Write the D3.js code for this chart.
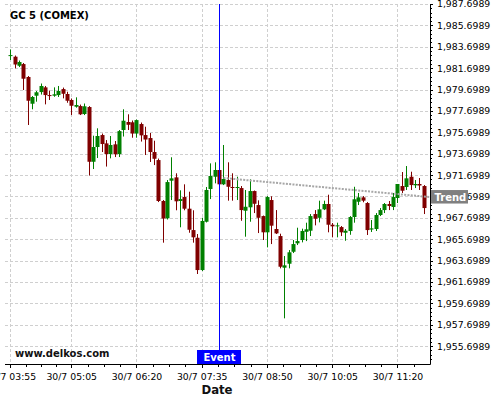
<!DOCTYPE html>
<html>
<head>
<meta charset="utf-8">
<script src="https://cdnjs.cloudflare.com/ajax/libs/d3/7.8.5/d3.min.js"></script>
<style>
	body { margin: 0; background: #fff; }
	text { font-family: "DejaVu Sans", sans-serif; }
	.grid line { stroke: #cfcfcf; stroke-dasharray: 3,2; shape-rendering: crispEdges; }
	.axis text { font-size: 9.3px; fill: #000; }
	.axis line { stroke: #000; shape-rendering: crispEdges; }
</style>
</head>
<body>
<script>
(function(){

//chart data: 5-minute bars of GC 5 starting 30/7 03:55
var barStart = "03:55";
var barMinutes = 5;
var opens = [1982.86,1982.77,1981.92,1982.08,1980.87,1978.37,1979.12,1979.46,1979.90,1979.18,
	1979.12,1979.18,1979.74,1979.28,1978.72,1978.09,1978.15,1977.41,1978.06,1972.94,
	1974.32,1975.44,1974.66,1973.66,1974.57,1973.66,1975.91,1976.66,1976.63,1975.58,
	1976.47,1975.44,1975.16,1973.85,1973.10,1969.27,1967.65,1971.17,1971.48,1969.27,
	1969.64,1968.55,1966.55,1965.83,1962.81,1967.33,1970.39,1971.54,1972.17,1970.83,
	1971.23,1970.58,1970.53,1970.48,1968.36,1968.68,1970.20,1968.89,1967.86,1966.34,
	1969.36,1966.65,1965.99,1963.03,1963.40,1964.52,1965.31,1965.62,1966.39,1966.49,
	1968.05,1967.70,1968.49,1968.99,1967.05,1966.90,1966.83,1966.30,1966.46,1967.77,
	1969.20,1969.61,1969.08,1966.60,1966.65,1967.96,1968.42,1968.99,1968.71,1969.55,
	1970.67,1970.58,1971.54,1970.74,1970.86,1970.67];
var highs = [1983.44,1982.88,1982.41,1982.18,1980.96,1979.09,1979.56,1980.26,1980.03,1979.60,
	1979.90,1980.03,1979.88,1979.49,1978.86,1978.97,1978.29,1978.39,1978.15,1975.38,
	1976.07,1975.58,1974.97,1975.35,1974.88,1975.91,1977.85,1977.38,1976.80,1976.89,
	1976.61,1976.22,1975.63,1974.91,1973.24,1969.36,1971.23,1973.36,1971.86,1970.27,
	1970.83,1970.14,1968.40,1966.18,1967.70,1970.58,1972.79,1972.89,1973.06,1974.51,
	1972.89,1971.86,1971.54,1970.67,1970.30,1971.30,1970.25,1969.33,1967.91,1969.73,
	1969.71,1968.42,1966.21,1964.12,1964.68,1965.62,1966.77,1966.68,1967.24,1968.05,
	1968.42,1969.30,1969.30,1969.86,1967.21,1967.24,1966.93,1966.65,1967.86,1970.60,
	1970.02,1969.73,1969.17,1967.49,1968.14,1968.61,1969.08,1969.27,1970.02,1970.86,
	1971.98,1972.54,1972.01,1971.23,1971.42,1970.76];
var lows = [1982.46,1981.68,1981.80,1979.65,1976.38,1977.85,1978.56,1979.23,1978.31,1978.72,
	1979.02,1979.00,1978.87,1978.46,1977.31,1978.00,1977.31,1977.31,1971.65,1972.26,
	1973.29,1973.85,1972.49,1973.26,1973.38,1973.38,1975.30,1975.91,1975.19,1975.19,
	1974.83,1973.57,1972.92,1972.63,1969.17,1965.37,1967.54,1969.36,1968.40,1966.81,
	1968.40,1966.30,1965.37,1962.44,1962.72,1967.26,1969.45,1970.92,1970.76,1970.76,
	1969.30,1969.30,1969.36,1967.42,1965.93,1967.33,1968.14,1966.27,1965.62,1964.93,
	1965.24,1966.18,1962.97,1958.29,1962.97,1964.40,1965.15,1965.40,1965.52,1965.99,
	1966.99,1967.27,1968.42,1966.34,1965.87,1965.87,1965.99,1965.55,1966.11,1967.24,
	1968.89,1969.15,1966.09,1966.37,1966.46,1967.86,1968.14,1968.42,1968.42,1969.08,
	1970.02,1970.30,1970.30,1970.48,1970.30,1968.05];
var closes = [1982.92,1982.04,1982.27,1980.71,1978.65,1979.00,1979.44,1980.03,1979.18,1979.13,
	1979.25,1979.56,1979.30,1978.65,1978.18,1978.25,1977.38,1978.13,1972.94,1974.32,
	1975.35,1974.60,1973.66,1974.51,1973.64,1975.81,1976.78,1976.40,1975.58,1976.84,
	1975.41,1975.02,1973.85,1973.22,1969.27,1967.63,1971.04,1971.39,1969.24,1969.45,
	1968.55,1966.58,1965.87,1962.81,1967.40,1970.30,1971.61,1972.17,1970.83,1971.33,
	1970.60,1970.51,1970.58,1968.42,1968.73,1970.20,1969.01,1967.70,1966.34,1969.64,
	1966.96,1966.24,1963.12,1963.25,1964.47,1965.24,1965.52,1966.46,1966.62,1967.86,
	1967.61,1968.49,1968.99,1967.05,1966.90,1966.99,1966.34,1966.49,1967.77,1969.43,
	1969.61,1969.30,1966.55,1966.71,1967.96,1968.42,1968.99,1968.80,1969.64,1970.86,
	1970.23,1971.39,1970.76,1970.86,1970.72,1968.61];

//axis ticks
var xTickLabels = ["03:55", "05:05", "06:20", "07:35", "08:50", "10:05", "11:20"];
var yTickValues = [1955.6989, 1957.6989, 1959.6989, 1961.6989, 1963.6989, 1965.6989,
	1967.6989, 1969.6989, 1971.6989, 1973.6989, 1975.6989, 1977.6989, 1979.6989,
	1981.6989, 1983.6989, 1985.6989, 1987.6989];

//event marker and trend line
var eventTime = "07:55";
var trendTimes = ["08:00", "11:57"];
var trendPrices = [1971.42, 1969.64];

//turn "HH:MM" into a date on 30/7
function toDate(hhmm){
	var p = hhmm.split(":");
	return new Date(2023, 6, 30, +p[0], +p[1]);
}

//frame
var width = 500,
	height = 400,
	plotLeft = 5,
	plotRight = 430,
	plotTop = 4,
	plotBottom = 364;

var svg = d3.select("body")
	.append("svg")
	.attr("width", width)
	.attr("height", height);

//build bar records
var first = toDate(barStart);
var bars = opens.map(function(o, i){
	return {
		date: d3.timeMinute.offset(first, i * barMinutes),
		open: o, high: highs[i], low: lows[i], close: closes[i]
	};
});

//scales
var x = d3.scaleTime()
	.domain([bars[0].date, bars[bars.length - 1].date])
	.range([10.3, 423.55]);

var y = d3.scaleLinear()
	.domain([1954.02, 1987.70])
	.range([plotBottom, plotTop]);

var xTickDates = xTickLabels.map(toDate);

//gridlines
var grid = svg.append("g").attr("class", "grid");
grid.selectAll(".vgrid")
	.data(xTickDates)
	.enter()
	.append("line")
	.attr("x1", function(d){ return Math.round(x(d)) + 0.5; })
	.attr("x2", function(d){ return Math.round(x(d)) + 0.5; })
	.attr("y1", plotTop)
	.attr("y2", plotBottom);
grid.selectAll(".hgrid")
	.data(yTickValues)
	.enter()
	.append("line")
	.attr("x1", plotLeft)
	.attr("x2", plotRight)
	.attr("y1", function(d){ return Math.round(y(d)) + 0.5; })
	.attr("y2", function(d){ return Math.round(y(d)) + 0.5; });

//candles
var candles = svg.append("g").attr("class", "candles");
var candle = candles.selectAll(".candle")
	.data(bars)
	.enter()
	.append("g")
	.attr("class", "candle");

function candleColor(d){
	return d.close >= d.open ? "#008000" : "#800000";
}

candle.append("line")
	.attr("x1", function(d){ return Math.round(x(d.date)) + 0.5; })
	.attr("x2", function(d){ return Math.round(x(d.date)) + 0.5; })
	.attr("y1", function(d){ return y(d.high); })
	.attr("y2", function(d){ return y(d.low); })
	.style("stroke", candleColor)
	.style("stroke-width", 1);

candle.append("rect")
	.attr("x", function(d){ return Math.round(x(d.date)) - 1.5; })
	.attr("width", 4)
	.attr("y", function(d){ return y(Math.max(d.open, d.close)); })
	.attr("height", function(d){ return Math.max(1, Math.abs(y(d.open) - y(d.close))); })
	.style("fill", candleColor);

//trend line
svg.append("line")
	.attr("x1", x(toDate(trendTimes[0])))
	.attr("y1", y(trendPrices[0]))
	.attr("x2", x(toDate(trendTimes[1])))
	.attr("y2", y(trendPrices[1]))
	.style("stroke", "#a6a6a6")
	.style("stroke-width", 2)
	.style("stroke-dasharray", "2,1.3");

//event line
var ex = Math.round(x(toDate(eventTime))) + 0.5;
svg.append("line")
	.attr("x1", ex).attr("x2", ex)
	.attr("y1", plotTop).attr("y2", 350)
	.style("stroke", "#0000ff")
	.style("stroke-width", 1);

//x axis
var xAxis = d3.axisBottom(x)
	.tickValues(xTickDates)
	.tickFormat(d3.timeFormat("%-d/%-m %H:%M"))
	.tickSize(4)
	.tickPadding(5)
	.tickSizeOuter(0);

var gx = svg.append("g")
	.attr("class", "axis")
	.attr("transform", "translate(0," + plotBottom + ")")
	.call(xAxis);
gx.select(".domain").remove();

//x minor ticks, three between majors
var xMinor = [];
for (var i=0; i<xTickDates.length; i++){
	var a = xTickDates[i],
		b = xTickDates[i + 1] || d3.timeMinute.offset(a, 75);
	for (var k=1; k<4; k++){
		var t = new Date(+a + (b - a) * k / 4);
		if (x(t) < plotRight) xMinor.push(t);
	}
}
svg.append("g").attr("class", "axis")
	.selectAll("line")
	.data(xMinor)
	.enter()
	.append("line")
	.attr("x1", function(d){ return Math.round(x(d)) + 0.5; })
	.attr("x2", function(d){ return Math.round(x(d)) + 0.5; })
	.attr("y1", plotBottom)
	.attr("y2", plotBottom + 3);

//y axis
var yAxis = d3.axisRight(y)
	.tickValues(yTickValues)
	.tickFormat(d3.format(",.4f"))
	.tickSize(3)
	.tickPadding(4)
	.tickSizeOuter(0);

var gy = svg.append("g")
	.attr("class", "axis")
	.attr("transform", "translate(" + plotRight + ",0)")
	.call(yAxis);
gy.select(".domain").remove();

//y minor ticks every 0.4
var yMinor = [];
for (var v = 1954.0989 + 0.4; v < 1987.70; v += 0.4){
	yMinor.push(v);
}
svg.append("g").attr("class", "axis")
	.selectAll("line")
	.data(yMinor)
	.enter()
	.append("line")
	.attr("x1", plotRight)
	.attr("x2", plotRight + 2)
	.attr("y1", function(d){ return Math.round(y(d)) + 0.5; })
	.attr("y2", function(d){ return Math.round(y(d)) + 0.5; });

//axis lines
svg.append("line")
	.attr("x1", plotLeft).attr("x2", plotRight + 0.5)
	.attr("y1", plotBottom + 0.5).attr("y2", plotBottom + 0.5)
	.style("stroke", "#000");
svg.append("line")
	.attr("x1", plotRight + 0.5).attr("x2", plotRight + 0.5)
	.attr("y1", plotTop).attr("y2", plotBottom + 0.5)
	.style("stroke", "#000");

//trend label
var trendY = y(trendPrices[1]);
svg.append("rect")
	.attr("x", 431)
	.attr("y", trendY - 7)
	.attr("width", 37)
	.attr("height", 13.5)
	.style("fill", "#808080");
svg.append("text")
	.attr("x", 434.5)
	.attr("y", trendY + 3.6)
	.style("font-size", "10px")
	.style("font-weight", "bold")
	.style("fill", "#fff")
	.text("Trend");

//event label
svg.append("rect")
	.attr("x", ex - 22.5)
	.attr("y", 350)
	.attr("width", 44)
	.attr("height", 14)
	.style("fill", "#0000ff");
svg.append("text")
	.attr("x", ex)
	.attr("y", 360.5)
	.attr("text-anchor", "middle")
	.style("font-size", "10px")
	.style("font-weight", "bold")
	.style("fill", "#fff")
	.text("Event");

//title, watermark, axis title
svg.append("text")
	.attr("x", 10)
	.attr("y", 19.3)
	.style("font-size", "10px")
	.style("font-weight", "bold")
	.text("GC 5 (COMEX)");

svg.append("text")
	.attr("x", 15)
	.attr("y", 357)
	.style("font-size", "10px")
	.style("font-weight", "bold")
	.style("fill", "#111")
	.text("www.delkos.com");

svg.append("text")
	.attr("x", 217)
	.attr("y", 393.5)
	.attr("text-anchor", "middle")
	.style("font-size", "11.7px")
	.style("font-weight", "bold")
	.style("fill", "#111")
	.text("Date");

})();
</script>
</body>
</html>
